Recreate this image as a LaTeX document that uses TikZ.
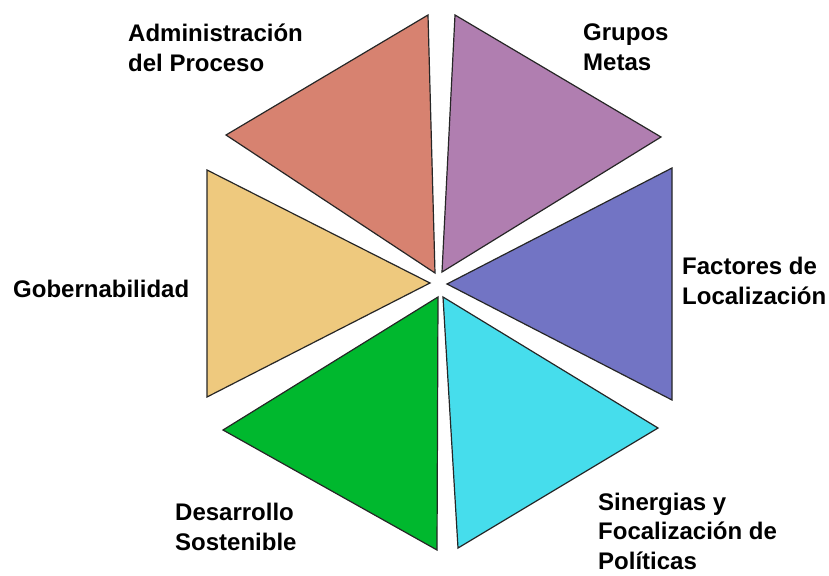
\documentclass[tikz,border=0pt]{standalone}
\usepackage{fontspec}
\setmainfont{Liberation Sans}
\tikzset{
  tri/.style={draw=black!85, line width=1.2pt, line join=miter},
  lbl/.style={font=\fontsize{24}{29.5}\selectfont\bfseries, align=left, anchor=west, inner sep=0pt}
}
\definecolor{cred}{RGB}{215,130,112}
\definecolor{cpurple}{RGB}{176,126,176}
\definecolor{cblue}{RGB}{114,116,196}
\definecolor{cyellow}{RGB}{238,201,126}
\definecolor{cgreen}{RGB}{0,184,46}
\definecolor{ccyan}{RGB}{70,221,236}
\begin{document}
\begin{tikzpicture}[x=1pt,y=-1pt]
\useasboundingbox (0,0) rectangle (829,575);
% red
\filldraw[tri, fill=cred] (428,15) -- (226,135) -- (435,273) -- cycle;
% purple
\filldraw[tri, fill=cpurple] (455,15) -- (661,137) -- (442,272) -- cycle;
% blue
\filldraw[tri, fill=cblue] (672,168) -- (672,400) -- (447,284) -- cycle;
% yellow
\filldraw[tri, fill=cyellow] (207,170) -- (207,397) -- (430,283) -- cycle;
% green
\filldraw[tri, fill=cgreen] (438,297) -- (223,430) -- (437,550) -- cycle;
% cyan
\filldraw[tri, fill=ccyan] (443,297) -- (658,428) -- (458,548) -- cycle;
% labels
\node[lbl] (adm) at (128,48) {Administración\\del Proceso};
\node[lbl] (gru) at (583,47) {Grupos\\Metas};
\node[lbl] (gob) at (13,289) {Gobernabilidad};
\node[lbl] (fac) at (682,281) {Factores de\\Localización};
\node[lbl] (des) at (175,527) {Desarrollo\\Sostenible};
\node[lbl] (sin) at (598,531) {Sinergias y\\Focalización de\\Políticas};
\end{tikzpicture}
\end{document}
